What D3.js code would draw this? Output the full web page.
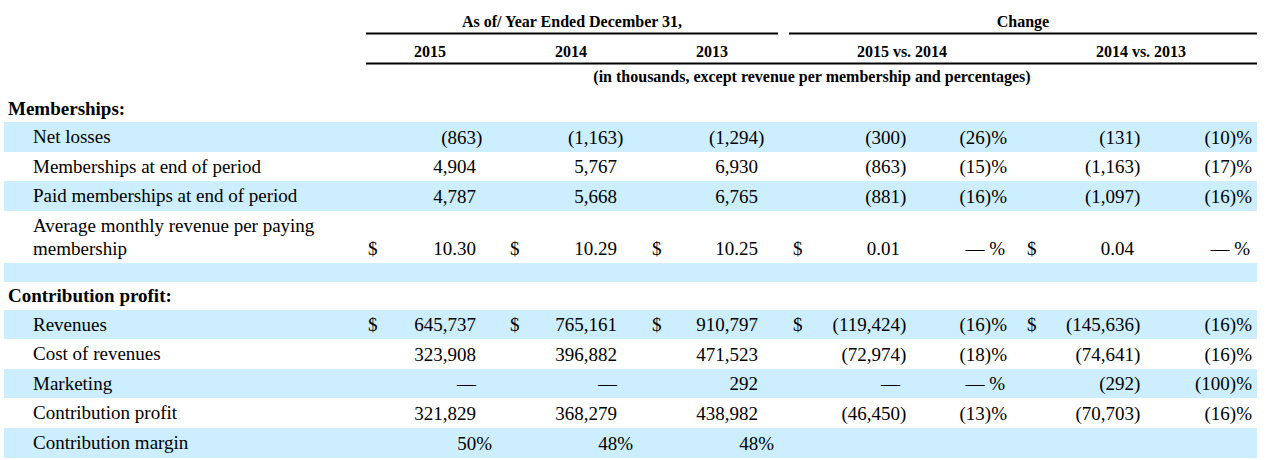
<!DOCTYPE html>
<html>
<head>
<meta charset="utf-8">
<script src="https://cdn.jsdelivr.net/npm/d3@7"></script>
<style>
  body { margin: 0; background: #fff; }
  svg text { font-family: "Liberation Serif", "Times New Roman", serif; fill: #000; }
</style>
</head>
<body>
<div id="chart"></div>
<script>
// ---- data ----
const years = ["2015", "2014", "2013"]
const changeHeads = ["2015 vs. 2014", "2014 vs. 2013"]
const sectionTitles = ["Memberships:", "Contribution profit:"]

const rowLabels = [
    "Net losses",
    "Memberships at end of period",
    "Paid memberships at end of period",
    "Average monthly revenue per paying membership",
    "",
    "Revenues",
    "Cost of revenues",
    "Marketing",
    "Contribution profit",
    "Contribution margin"
]

const val2015 = [-863, 4904, 4787, 10.30, null, 645737, 323908, 0, 321829, 50]
const val2014 = [-1163, 5767, 5668, 10.29, null, 765161, 396882, 0, 368279, 48]
const val2013 = [-1294, 6930, 6765, 10.25, null, 910797, 471523, 292, 438982, 48]
const chg1514 = [-300, -863, -881, 0.01, null, -119424, -72974, 0, -46450, null]
const pct1514 = [-26, -15, -16, 0, null, -16, -18, 0, -13, null]
const chg1413 = [-131, -1163, -1097, 0.04, null, -145636, -74641, -292, -70703, null]
const pct1413 = [-10, -17, -16, 0, null, -16, -16, -100, -16, null]

// ---- layout ----
const width = 1267, height = 460
const fontSize = 19
const parenW = 6.3      // width of ")" hanging past the column edge
const dollarRows = [3, 5]
const centsRows = [3]
const percentRows = [9]
const shadedRows = [0, 2, 4, 5, 7, 9]
const rowHeights = [30, 29, 30, 52, 19, 29, 30, 29, 30, 30]
const headingGap = 28   // space for "Contribution profit:" before row 5

const svg = d3.select("#chart")
    .append("svg")
    .attr("width", width)
    .attr("height", height)

// row tops
let tops = []
let y = 122
rowHeights.forEach((h, i) => {
    if (i == 5) y += headingGap
    tops.push(y)
    y += h
})
const yTop = d3.scaleOrdinal().domain(d3.range(rowLabels.length)).range(tops)
const yBase = (i) => yTop(i) + rowHeights[i] - 8.5

const colKeys = ["y2015", "y2014", "y2013", "c1514", "c1413"]
const colVals = [val2015, val2014, val2013, chg1514, chg1413]
const xNum = d3.scaleOrdinal().domain(colKeys).range([476, 617, 758, 900, 1134])
const xDollar = d3.scaleOrdinal().domain(colKeys).range([368, 510, 652, 793, 1027])
const pctKeys = ["p1514", "p1413"]
const pctVals = [pct1514, pct1413]
const xPct = d3.scaleOrdinal().domain(pctKeys).range([1007, 1252])

// ---- bands ----
svg.selectAll("rect.band")
    .data(shadedRows)
    .enter()
    .append("rect")
        .attr("class", "band")
        .attr("x", 4)
        .attr("y", d => yTop(d))
        .attr("width", 1253)
        .attr("height", d => rowHeights[d])
        .attr("fill", "#cceeff")

// ---- header ----
const head = svg.append("g").style("font-weight", "bold").style("font-size", "16px")

head.append("text").attr("x", 572).attr("y", 27).attr("text-anchor", "middle")
    .text("As of/ Year Ended December 31,")
head.append("text").attr("x", 1023).attr("y", 27).attr("text-anchor", "middle")
    .text("Change")

const xYear = d3.scaleOrdinal().domain(years).range([430, 571, 712])
head.selectAll("text.year")
    .data(years)
    .enter()
    .append("text")
        .attr("class", "year")
        .attr("x", d => xYear(d))
        .attr("y", 57)
        .attr("text-anchor", "middle")
        .text(d => d)

const xChg = d3.scaleOrdinal().domain(changeHeads).range([902, 1141])
head.selectAll("text.chg")
    .data(changeHeads)
    .enter()
    .append("text")
        .attr("class", "chg")
        .attr("x", d => xChg(d))
        .attr("y", 57)
        .attr("text-anchor", "middle")
        .text(d => d)

head.append("text").attr("x", 812).attr("y", 82).attr("text-anchor", "middle")
    .text("(in thousands, except revenue per membership and percentages)")

// rules under headers
const rules = [[366, 778, 33.5], [789, 1257, 33.5], [366, 1257, 63.5]]
svg.selectAll("line.rule")
    .data(rules)
    .enter()
    .append("line")
        .attr("x1", d => d[0])
        .attr("x2", d => d[1])
        .attr("y1", d => d[2])
        .attr("y2", d => d[2])
        .attr("stroke", "#000")
        .attr("stroke-width", 2)

// section titles
const titleY = [115, 302]
svg.selectAll("text.section")
    .data(sectionTitles)
    .enter()
    .append("text")
        .attr("class", "section")
        .attr("x", 8)
        .attr("y", (d, i) => titleY[i])
        .style("font-weight", "bold")
        .style("font-size", fontSize + "px")
        .text(d => d)

// ---- row labels (wrap long ones) ----
const labels = svg.selectAll("text.label")
    .data(rowLabels)
    .enter()
    .append("text")
        .attr("class", "label")
        .attr("x", 33)
        .attr("y", (d, i) => yTop(i) + 21)
        .style("font-size", fontSize + "px")

labels.each(function (d) {
    let el = d3.select(this)
    let words = d.split(" ")
    let line = []
    let tspan = el.append("tspan").attr("x", 33)
    let lineNo = 0
    words.forEach(w => {
        line.push(w)
        tspan.text(line.join(" "))
        if (tspan.node().getComputedTextLength() > 300 && line.length > 1) {
            line.pop()
            tspan.text(line.join(" "))
            line = [w]
            lineNo++
            tspan = el.append("tspan").attr("x", 33).attr("dy", 23).text(w)
        }
    })
})

// ---- values ----
const fmtInt = d3.format(",")
const fmtCents = d3.format(".2f")

const fmtVal = (v, row) => {
    if (v === null) return ""
    if (percentRows.includes(row)) return v + "%"
    if (centsRows.includes(row)) return fmtCents(v)
    if (v === 0) return "\u2014"
    if (v < 0) return "(" + fmtInt(-v) + ")"
    return fmtInt(v)
}

const fmtPct = (v) => {
    if (v === null) return ""
    if (v === 0) return "\u2014 %"
    if (v < 0) return "(" + (-v) + ")%"
    return v + "%"
}

let cells = []
colKeys.forEach((k, c) => {
    colVals[c].forEach((v, r) => {
        if (v !== null) cells.push({col: k, row: r, text: fmtVal(v, r)})
    })
})

svg.selectAll("text.val")
    .data(cells)
    .enter()
    .append("text")
        .attr("class", "val")
        .attr("x", d => {
            let x = xNum(d.col)
            if (d.text.endsWith(")")) x += parenW
            if (percentRows.includes(d.row)) x += 16
            return x
        })
        .attr("y", d => yBase(d.row))
        .attr("text-anchor", "end")
        .style("font-size", fontSize + "px")
        .text(d => d.text)

// dollar signs
let dollars = []
dollarRows.forEach(r => colKeys.forEach(k => dollars.push({col: k, row: r})))
svg.selectAll("text.dollar")
    .data(dollars)
    .enter()
    .append("text")
        .attr("class", "dollar")
        .attr("x", d => xDollar(d.col))
        .attr("y", d => yBase(d.row))
        .style("font-size", fontSize + "px")
        .text("$")

// percent change columns
let pcts = []
pctKeys.forEach((k, c) => {
    pctVals[c].forEach((v, r) => {
        if (v !== null) pcts.push({col: k, row: r, text: fmtPct(v)})
    })
})
svg.selectAll("text.pct")
    .data(pcts)
    .enter()
    .append("text")
        .attr("class", "pct")
        .attr("x", d => xPct(d.col) - (d.text.startsWith("\u2014") ? 2 : 0))
        .attr("y", d => yBase(d.row))
        .attr("text-anchor", "end")
        .style("font-size", fontSize + "px")
        .text(d => d.text)
</script>
</body>
</html>
